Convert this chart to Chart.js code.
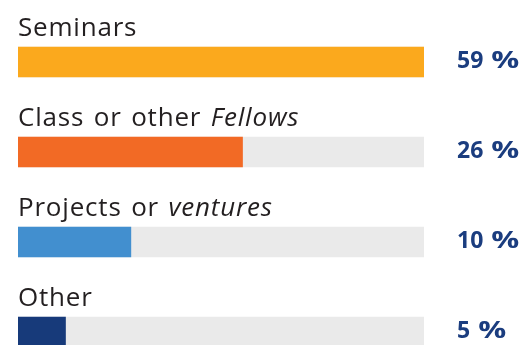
<!DOCTYPE html>
<html>
<head>
<meta charset="utf-8">
<script src="https://cdn.jsdelivr.net/npm/chart.js@4"></script>
<style>
  html, body { margin: 0; padding: 0; background: #fff; overflow: hidden; }
  #wrap { width: 529px; height: 380px; }
</style>
</head>
<body>
<div id="wrap"><canvas id="shareChart"></canvas></div>
<script>
// categories and the printed shares
const categories = ["Seminars", "Class or other Fellows", "Projects or ventures", "Other"];
const italicPart = [null, "Fellows", "ventures", null];
const shares = [59, 26, 10, 5];
// bar length as drawn in the picture (track = 100), it is not to scale with the shares
const barFill = [100, 55.3, 27.8, 11.7];
const track = [100, 100, 100, 100];
const barColors = ["#FBA91D", "#F26A25", "#428FCF", "#173A7A"];

const LABEL_FONT = "'Open Sans', Lato, sans-serif";

// draws the category label above each bar and the share at the right
const labelPlugin = {
    id: "barLabels",
    afterDatasetsDraw(chart) {
        const c = chart.ctx;
        const meta = chart.getDatasetMeta(0);
        c.save();
        meta.data.forEach((bar, i) => {
            const top = bar.y - bar.height / 2;
            let x = chart.chartArea.left;
            const y = top - 11;
            c.textBaseline = "alphabetic";
            c.textAlign = "left";
            c.fillStyle = "#231F20";
            c.letterSpacing = "0.8px";
            c.wordSpacing = "2px";
            const name = categories[i];
            const it = italicPart[i];
            const parts = it ? [[name.slice(0, name.indexOf(it)), false], [it, true]] : [[name, false]];
            parts.forEach(([txt, ital]) => {
                c.font = (ital ? "italic " : "") + "26px " + LABEL_FONT;
                c.fillText(txt, x, y);
                x += c.measureText(txt).width;
            });
            c.letterSpacing = "0px";
            c.wordSpacing = "0px";

            // share value: number, then a wide percent sign
            c.font = "bold 23px " + LABEL_FONT;
            c.fillStyle = "#1B3D7F";
            const num = String(shares[i]);
            const vx = 457;
            const vy = bar.y + 6;
            c.fillText(num, vx, vy);
            const px = vx + c.measureText(num).width + 8;
            const pw = c.measureText("%").width;
            c.save();
            c.translate(px, vy);
            c.scale(28 / pw, 1);
            c.fillText("%", 0, 0);
            c.restore();
        });
        c.restore();
    }
};

const ctx = document.getElementById("shareChart").getContext("2d");
const shareChart = new Chart(ctx, {
    type: "bar",
    data: {
        labels: categories,
        datasets: [
            {
                data: barFill,
                backgroundColor: barColors,
                barThickness: 30,
                grouped: false,
                order: 0
            },
            {
                data: track,
                backgroundColor: "#EAEAEA",
                barThickness: 30,
                grouped: false,
                order: 1
            }
        ]
    },
    options: {
        indexAxis: "y",
        responsive: true,
        maintainAspectRatio: false,
        animation: false,
        layout: { padding: { left: 18, right: 105, top: 17, bottom: 3 } },
        plugins: {
            legend: { display: false },
            tooltip: { enabled: false }
        },
        scales: {
            x: { display: false, min: 0, max: 100 },
            y: { display: false }
        }
    },
    plugins: [labelPlugin]
});
</script>
</body>
</html>
